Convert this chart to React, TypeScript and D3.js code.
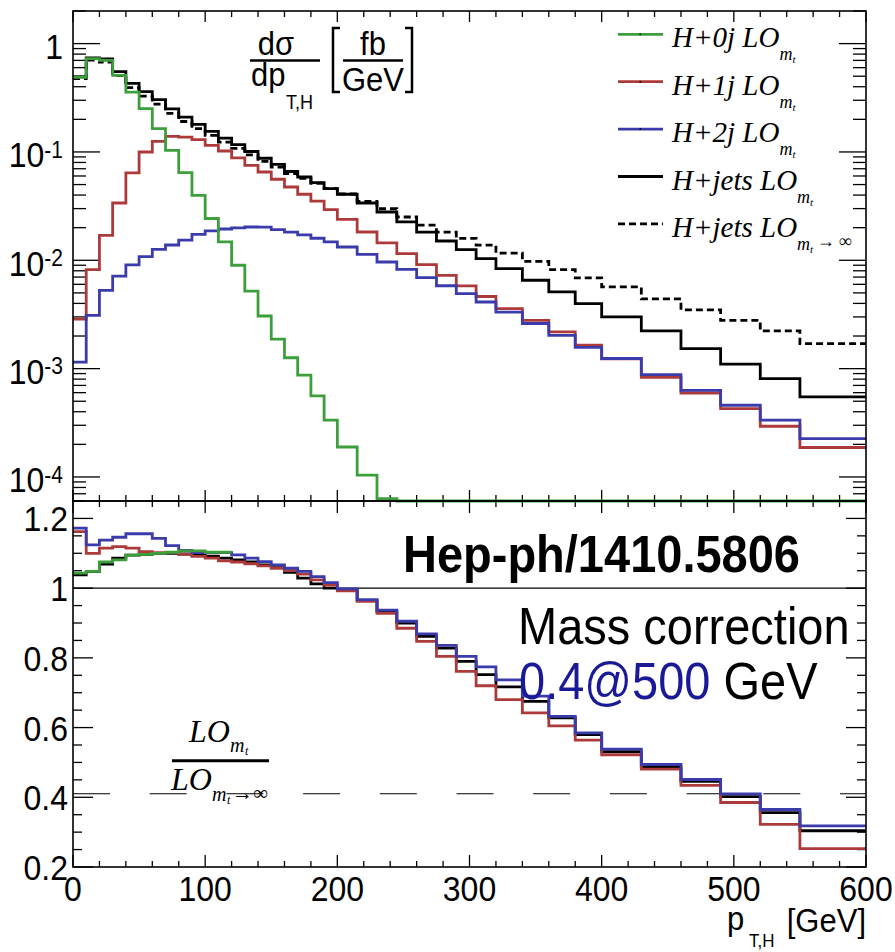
import React from 'react';
import * as d3 from 'd3';

// ---- data ----
const binEdges = [0, 10, 20, 30, 40, 50, 60, 70, 80, 90, 100, 110, 120, 130, 140, 150, 160, 170, 180, 190, 200,
  215, 230, 245, 260, 275, 290, 305, 320, 340, 360, 380, 400, 430, 460, 490, 520, 550, 600];

const h0j = [0.489, 0.727, 0.70, 0.51, 0.357, 0.251, 0.164, 0.1035, 0.0645, 0.0398, 0.0243, 0.0148, 0.009, 0.0052,
  0.00306, 0.00187, 0.00126, 0.00087, 0.00056, 0.000334, 0.000189, 0.000104, 0.000063,
  3.4e-5, 1.8e-5, 1.0e-5, 5.5e-6, 3e-6, 1.5e-6, 8e-7, 4e-7, 2e-7, 8e-8, 3e-8, 1e-8, 4e-9, 1.5e-9, 5e-10];
const h1j = [0.00286, 0.0082, 0.017, 0.0338, 0.064, 0.0999, 0.125, 0.139, 0.137, 0.13, 0.115, 0.102, 0.088, 0.0753,
  0.0653, 0.056, 0.0475, 0.0407, 0.0351, 0.0294, 0.0239, 0.01825, 0.01445, 0.01153, 0.00912, 0.00727, 0.0058,
  0.00463, 0.00358, 0.00279, 0.00218, 0.00165, 0.00123, 0.000832, 0.000596, 0.000428, 0.000294, 0.000187];
const h2j = [0.00115, 0.0031, 0.00528, 0.00714, 0.00908, 0.01083, 0.01263, 0.01384, 0.01538, 0.01737, 0.0187,
  0.01945, 0.01995, 0.0203, 0.0202, 0.0192, 0.0182, 0.01713, 0.01597, 0.01482, 0.01327, 0.01135, 0.00964,
  0.00826, 0.00692, 0.00582, 0.00493, 0.00412, 0.00333, 0.00261, 0.00203, 0.00157, 0.00124, 0.000881,
  0.000631, 0.000459, 0.000334, 0.000226];
const hjets = [0.494, 0.738, 0.722, 0.551, 0.43, 0.36, 0.304, 0.25, 0.21, 0.18, 0.155, 0.134, 0.117, 0.101,
  0.0875, 0.0767, 0.066, 0.0587, 0.052, 0.0459, 0.0407, 0.0338, 0.0279, 0.0226, 0.0182, 0.01507, 0.01256,
  0.01037, 0.00838, 0.00654, 0.0051, 0.00398, 0.003, 0.00223, 0.00153, 0.0011, 0.000809, 0.000548];
const hjetsInf = [0.476, 0.704, 0.675, 0.507, 0.393, 0.328, 0.276, 0.227, 0.191, 0.164, 0.142, 0.123, 0.108,
  0.094, 0.082, 0.0724, 0.0632, 0.057, 0.0514, 0.0459, 0.0409, 0.035, 0.0299, 0.0251, 0.0211, 0.0182, 0.0159,
  0.0138, 0.01166, 0.00977, 0.0082, 0.00687, 0.00568, 0.00441, 0.00349, 0.00279, 0.00223, 0.0017];

const r0j = [1.043, 1.048, 1.075, 1.081, 1.095, 1.097, 1.1, 1.103, 1.107, 1.107, 1.103, 1.103];
const r1j = [1.162, 1.1, 1.115, 1.119, 1.115, 1.105, 1.102, 1.102, 1.097, 1.091, 1.086, 1.078, 1.075, 1.07,
  1.064, 1.057, 1.05, 1.04, 1.024, 1.009, 0.992, 0.962, 0.928, 0.885, 0.847, 0.804, 0.761, 0.72, 0.68, 0.642,
  0.605, 0.564, 0.522, 0.481, 0.434, 0.385, 0.322, 0.253];
const r2j = [1.172, 1.124, 1.138, 1.146, 1.156, 1.156, 1.143, 1.122, 1.108, 1.102, 1.102, 1.102, 1.0955, 1.086,
  1.076, 1.067, 1.057, 1.048, 1.033, 1.016, 0.998, 0.967, 0.937, 0.905, 0.869, 0.836, 0.804, 0.774, 0.737,
  0.69, 0.632, 0.585, 0.538, 0.494, 0.451, 0.41, 0.365, 0.318];
const rjets = [1.038, 1.048, 1.069, 1.086, 1.095, 1.097, 1.1, 1.1, 1.098, 1.095, 1.092, 1.086, 1.081, 1.075,
  1.067, 1.059, 1.045, 1.029, 1.012, 1.0, 0.995, 0.965, 0.933, 0.9, 0.862, 0.828, 0.79, 0.752, 0.717, 0.675,
  0.628, 0.58, 0.531, 0.488, 0.446, 0.402, 0.356, 0.304];

const refLineValue = 0.41;
const xTickLabels = [0, 100, 200, 300, 400, 500, 600];
const topTickExponents = [0, -1, -2, -3, -4];
const botTickLabels = ['0.2', '0.4', '0.6', '0.8', '1', '1.2'];

const legendLabels = ['H+0j LO', 'H+1j LO', 'H+2j LO', 'H+jets LO', 'H+jets LO'];

const GREEN = '#3c9f3c';
const RED = '#ad3a3a';
const BLUE = '#3b3bab';
const NAVY = '#1a1a96';

const SANS = 'Liberation Sans, Arial, Helvetica, sans-serif';
const SERIF = 'Liberation Serif, Times New Roman, serif';

const X0 = 73, X1 = 866, TOP0 = 11, MID = 501, BOT = 867;
const SY = 1.1;

// text drawn slightly taller than wide, as in the reference
const T = ({ x, y, sy = SY, children, ...rest }: any) => (
  <text transform={`translate(${x},${y}) scale(1,${sy})`} {...rest}>{children}</text>
);

export default function App() {
  const x = d3.scaleLinear().domain([0, 600]).range([X0, X1]);
  const yTop = d3.scaleLog().domain([6e-5, 2]).range([MID, TOP0]);
  const yBot = d3.scaleLinear().domain([0.2, 1.25]).range([BOT, MID]);

  const step = (vals: number[], yS: (v: number) => number, lo: number, hi: number) => {
    const cl = (v: number) => Math.max(lo, Math.min(hi, yS(v)));
    const pts: [number, number][] = vals.map((v, i) => [x(binEdges[i]), cl(v)]);
    pts.push([x(binEdges[vals.length]), cl(vals[vals.length - 1])]);
    return d3.line().curve(d3.curveStepAfter)(pts) as string;
  };

  const xMajor = d3.range(0, 601, 100);
  const xMinor = d3.range(0, 601, 20).filter((v) => v % 100 !== 0);

  const topMajor = topTickExponents.map((e) => Math.pow(10, e));
  const topMinor: number[] = [];
  for (let e = -5; e <= 0; e++) {
    for (let m = 2; m <= 9; m++) {
      const v = m * Math.pow(10, e);
      if (v >= 6e-5 && v <= 2) topMinor.push(v);
    }
  }
  const botMajor = botTickLabels.map(Number);
  const botMinor = d3.range(0, 22).map((i) => 0.2 + i * 0.05).filter((v) => v <= 1.25 &&
    !botMajor.some((m) => Math.abs(m - v) < 1e-6));

  const tk = { stroke: '#000', strokeWidth: 1.3 };
  const lw = 2.8;

  return (
    <svg width={895} height={952} style={{ position: 'absolute', left: 0, top: 0, background: '#fff' }}
      fontFamily={SANS}>
      <rect x={0} y={0} width={895} height={952} fill="#fff" />

      {/* ---- ticks ---- */}
      {xMajor.map((v) => (
        <g key={'txM' + v}>
          <line x1={x(v)} x2={x(v)} y1={MID} y2={MID - 11} {...tk} />
          <line x1={x(v)} x2={x(v)} y1={TOP0} y2={TOP0 + 11} {...tk} />
          <line x1={x(v)} x2={x(v)} y1={MID} y2={MID + 12} {...tk} />
          <line x1={x(v)} x2={x(v)} y1={BOT} y2={BOT - 12} {...tk} />
        </g>
      ))}
      {xMinor.map((v) => (
        <g key={'txm' + v}>
          <line x1={x(v)} x2={x(v)} y1={MID} y2={MID - 6} {...tk} />
          <line x1={x(v)} x2={x(v)} y1={TOP0} y2={TOP0 + 6} {...tk} />
          <line x1={x(v)} x2={x(v)} y1={MID} y2={MID + 6} {...tk} />
          <line x1={x(v)} x2={x(v)} y1={BOT} y2={BOT - 6} {...tk} />
        </g>
      ))}
      {topMajor.map((v) => (
        <g key={'tyM' + v}>
          <line x1={X0} x2={X0 + 27} y1={yTop(v)} y2={yTop(v)} {...tk} />
          <line x1={X1} x2={X1 - 27} y1={yTop(v)} y2={yTop(v)} {...tk} />
        </g>
      ))}
      {topMinor.map((v) => (
        <g key={'tym' + v}>
          <line x1={X0} x2={X0 + 13} y1={yTop(v)} y2={yTop(v)} {...tk} />
          <line x1={X1} x2={X1 - 13} y1={yTop(v)} y2={yTop(v)} {...tk} />
        </g>
      ))}
      {botMajor.map((v) => (
        <g key={'byM' + v}>
          <line x1={X0} x2={X0 + 20} y1={yBot(v)} y2={yBot(v)} {...tk} />
          <line x1={X1} x2={X1 - 20} y1={yBot(v)} y2={yBot(v)} {...tk} />
        </g>
      ))}
      {botMinor.map((v) => (
        <g key={'bym' + v}>
          <line x1={X0} x2={X0 + 9} y1={yBot(v)} y2={yBot(v)} {...tk} />
          <line x1={X1} x2={X1 - 9} y1={yBot(v)} y2={yBot(v)} {...tk} />
        </g>
      ))}

      {/* reference lines lower panel */}
      <line x1={X0} x2={X1} y1={yBot(1)} y2={yBot(1)} stroke="#000" strokeWidth={1.3} />
      <line x1={X0} x2={X1} y1={yBot(refLineValue)} y2={yBot(refLineValue)} stroke="#000" strokeWidth={1.1}
        strokeDasharray="37 39.7" />

      {/* ---- histograms top ---- */}
      <path d={step(hjetsInf, yTop, TOP0, MID)} fill="none" stroke="#000" strokeWidth={lw} strokeDasharray="7 4" />
      <path d={step(hjets, yTop, TOP0, MID)} fill="none" stroke="#000" strokeWidth={lw} />
      <path d={step(h1j, yTop, TOP0, MID)} fill="none" stroke={RED} strokeWidth={lw} />
      <path d={step(h2j, yTop, TOP0, MID)} fill="none" stroke={BLUE} strokeWidth={lw} />
      <path d={step(h0j, yTop, TOP0, MID)} fill="none" stroke={GREEN} strokeWidth={lw} />

      {/* ---- histograms bottom ---- */}
      <path d={step(rjets, yBot, MID, BOT)} fill="none" stroke="#000" strokeWidth={lw} />
      <path d={step(r1j, yBot, MID, BOT)} fill="none" stroke={RED} strokeWidth={lw} />
      <path d={step(r2j, yBot, MID, BOT)} fill="none" stroke={BLUE} strokeWidth={lw} />
      <path d={step(r0j, yBot, MID, BOT)} fill="none" stroke={GREEN} strokeWidth={lw} />

      {/* frames */}
      <rect x={X0} y={TOP0} width={X1 - X0} height={MID - TOP0} fill="none" stroke="#000" strokeWidth={1.6} />
      <rect x={X0} y={MID} width={X1 - X0} height={BOT - MID} fill="none" stroke="#000" strokeWidth={1.6} />

      {/* ---- tick labels ---- */}
      {topTickExponents.map((e) => (
        <T key={'tl' + e} x={63} y={yTop(Math.pow(10, e)) + 15.5} textAnchor="end" fontSize={32}>
          {e === 0 ? '1' : '10'}
          {e !== 0 && <tspan dy={-9} fontSize={21}>{String(e)}</tspan>}
        </T>
      ))}
      {botTickLabels.map((s) => (
        <T key={'bl' + s} x={68} y={yBot(Number(s)) + 13} textAnchor="end" fontSize={32}>{s}</T>
      ))}
      {xTickLabels.map((v) => (
        <T key={'xl' + v} x={x(v)} y={901} textAnchor="middle" fontSize={32}>{v}</T>
      ))}

      {/* x axis title */}
      <T x={866} y={932} textAnchor="end" fontSize={31}>[GeV]</T>
      <T x={727} y={930} fontSize={31}>p</T>
      <T x={749} y={947} fontSize={17}>T,H</T>

      {/* y title top */}
      <T x={276} y={55} textAnchor="middle" fontSize={31}>dσ</T>
      <line x1={250} x2={320} y1={60.5} y2={60.5} stroke="#000" strokeWidth={2.5} />
      <T x={251} y={86} fontSize={31}>dp</T>
      <T x={286} y={109} fontSize={18}>T,H</T>
      <path d="M340,28 L333,28 L333,92 L340,92" fill="none" stroke="#000" strokeWidth={2.5} />
      <path d="M405,28 L412,28 L412,92 L405,92" fill="none" stroke="#000" strokeWidth={2.5} />
      <T x={373} y={55} textAnchor="middle" fontSize={31}>fb</T>
      <line x1={343} x2={403} y1={60.5} y2={60.5} stroke="#000" strokeWidth={2.5} />
      <T x={373} y={91} textAnchor="middle" fontSize={31}>GeV</T>

      {/* legend */}
      {legendLabels.map((lab, i) => {
        const yy = 34.3 + 47.4 * i;
        const col = [GREEN, RED, BLUE, '#000', '#000'][i];
        return (
          <g key={'lg' + i}>
            <line x1={618} x2={663} y1={yy} y2={yy} stroke={col} strokeWidth={lw}
              strokeDasharray={i === 4 ? '7 4' : undefined} />
            {i < 3 && <rect x={639.5} y={yy - 0.8} width={1.6} height={1.6} fill="#000" />}
            <text x={672} y={yy + 13} fontFamily={SERIF} fontStyle="italic" fontSize={29}>
              {lab}
              <tspan dy={13} fontSize={18}>m</tspan>
              <tspan dy={3} fontSize={11}>t</tspan>
              {i === 4 && <tspan dy={-6} fontSize={18}>{'\u2009→ ∞'}</tspan>}
            </text>
          </g>
        );
      })}

      {/* lower panel annotations */}
      <T x={403} y={572} fontSize={47} fontWeight="bold">Hep-ph/1410.5806</T>
      <T x={518} y={644} fontSize={47}>Mass correction</T>
      <T x={519} y={699} fontSize={47}>
        <tspan fill={NAVY}>0.4@500</tspan> GeV
      </T>

      {/* ratio label */}
      <text x={189} y={742} fontFamily={SERIF} fontStyle="italic" fontSize={32}>LO</text>
      <text x={230} y={752} fontFamily={SERIF} fontStyle="italic" fontSize={20}>m</text>
      <text x={245} y={755} fontFamily={SERIF} fontStyle="italic" fontSize={12}>t</text>
      <line x1={172} x2={269} y1={760.7} y2={760.7} stroke="#000" strokeWidth={3} />
      <text x={171} y={790} fontFamily={SERIF} fontStyle="italic" fontSize={32}>LO</text>
      <text x={212} y={801} fontFamily={SERIF} fontStyle="italic" fontSize={20}>m</text>
      <text x={227} y={804} fontFamily={SERIF} fontStyle="italic" fontSize={12}>t</text>
      <text x={232} y={800} fontFamily={SERIF} fontSize={21}>→∞</text>
    </svg>
  );
}
